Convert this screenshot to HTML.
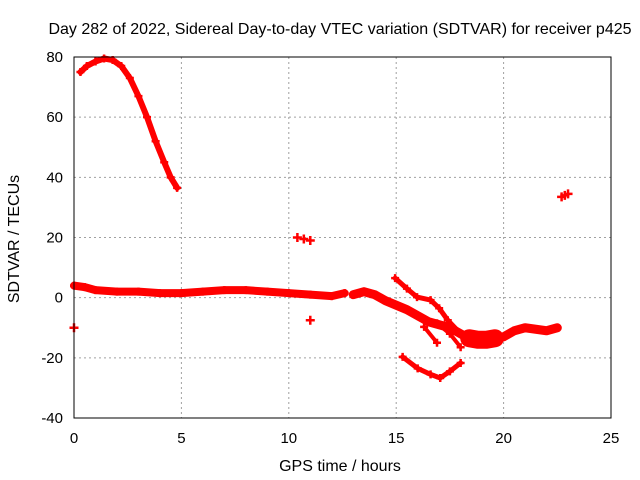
<!DOCTYPE html>
<html><head><meta charset="utf-8"><style>
body{margin:0;background:#fff;}
svg{display:block;font-family:"Liberation Sans",sans-serif;}
</style></head><body>
<svg id="chart" width="640" height="480" viewBox="0 0 640 480">
<rect x="0" y="0" width="640" height="480" fill="#fff"/>
<text x="340" y="34" font-size="16" text-anchor="middle">Day 282 of 2022, Sidereal Day-to-day VTEC variation (SDTVAR) for receiver p425</text>
<text x="340" y="471" font-size="16" text-anchor="middle">GPS time / hours</text>
<text x="19" y="239" font-size="16" text-anchor="middle" transform="rotate(-90 19 239)">SDTVAR / TECUs</text>
<g id="grid"></g>
<g id="ticks"></g>
<g id="marks"></g>
<rect x="74" y="57" width="537" height="361" fill="none" stroke="#000" stroke-width="1"/>
</svg>
<script>
const xTicks=[0,5,10,15,20,25];
const yTicks=[-40,-20,0,20,40,60,80];
const arcSeries=[[0.3,75],[0.6,77],[1,78.5],[1.4,79.5],[1.8,79],[2.2,77],[2.6,73],[3,67],[3.4,60],[3.8,52],[4.2,45],[4.5,40],[4.8,36.5]];
const mainSeries=[[0,4],[0.5,3.5],[1,2.5],[2,2],[3,2],[4,1.5],[5,1.5],[6,2],[7,2.5],[8,2.5],[9,2],[10,1.5],[11,1],[12,0.5],[12.6,1.5]];
const midSeries=[[13,1],[13.5,2],[14,1],[14.5,-1],[15,-2.5],[15.5,-4],[16,-6],[16.5,-8],[17,-9],[17.5,-10],[18,-12],[18.5,-14],[19,-15],[19.5,-14],[20,-13],[20.5,-11],[21,-10],[21.5,-10.5],[22,-11],[22.5,-10]];
const upperBranch=[[14.95,6.5],[15.5,3],[15.97,0.2],[16.6,-0.8],[17,-3.5],[17.4,-7.5],[18,-12]];
const branchA=[[16.3,-9.7],[16.9,-15]];
const branchB=[[16.9,-8.5],[17.5,-12],[18,-16.5]];
const lowSeries=[[15.3,-19.7],[16,-23.5],[16.6,-25.5],[17.05,-26.7],[17.5,-24.5],[18,-21.7]];
const blockSeries=[[18.4,-13.5],[18.8,-14],[19.2,-14],[19.6,-13.5]];
const isolated=[[0,-10],[10.4,20],[10.7,19.5],[11,19],[11,-7.5],[22.7,33.5],[22.85,34],[23,34.5]];
const NS="http://www.w3.org/2000/svg";
function X(t){return 74+t*537/25;}
function Y(v){return 57+(80-v)*361/120;}
function mk(tag,attrs,parent){const e=document.createElementNS(NS,tag);for(const k in attrs)e.setAttribute(k,attrs[k]);parent.appendChild(e);return e;}
const grid=document.getElementById('grid'),ticks=document.getElementById('ticks'),marks=document.getElementById('marks');
xTicks.forEach(t=>{
  if(t>0&&t<25){const l=mk('line',{x1:X(t),x2:X(t),y1:57,y2:418,stroke:'#a0a0a0','stroke-dasharray':'2,3'},grid);
  
  }
  const tx=mk('text',{x:X(t),y:443,'font-size':15,'text-anchor':'middle'},ticks);tx.textContent=t;
  
  
});
yTicks.forEach(v=>{
  if(v>-40&&v<80){const l=mk('line',{x1:74,x2:611,y1:Y(v),y2:Y(v),stroke:'#a0a0a0','stroke-dasharray':'2,3'},grid);
  
  }
  const tx=mk('text',{x:63,y:Y(v)+5,'font-size':15,'text-anchor':'end'},ticks);tx.textContent=v;
  
  
});
function plus(t,v,s){
  const p=mk('path',{d:`M${X(t)-s},${Y(v)}h${2*s}M${X(t)},${Y(v)-s}v${2*s}`,stroke:'#f00','stroke-width':2.5},marks);
  
  
}
function series(arr,w,name){
  const pl=mk('polyline',{points:arr.map(p=>X(p[0])+','+Y(p[1])).join(' '),fill:'none',stroke:'#f00','stroke-width':w,'stroke-linejoin':'round','stroke-linecap':'round'},marks);
  
  
  arr.forEach(p=>plus(p[0],p[1],4));
}
series(arcSeries,6,'arc-series');
series(mainSeries,8,'main-series');
series(midSeries,9,'mid-series');
series(upperBranch,5,'upper-branch');
series(branchA,4,'branch-a');
series(branchB,4,'branch-b');
series(lowSeries,5,'low-series');
series(blockSeries,18,'block-series');
isolated.forEach(p=>plus(p[0],p[1],4.5));
</script>
</body></html>
